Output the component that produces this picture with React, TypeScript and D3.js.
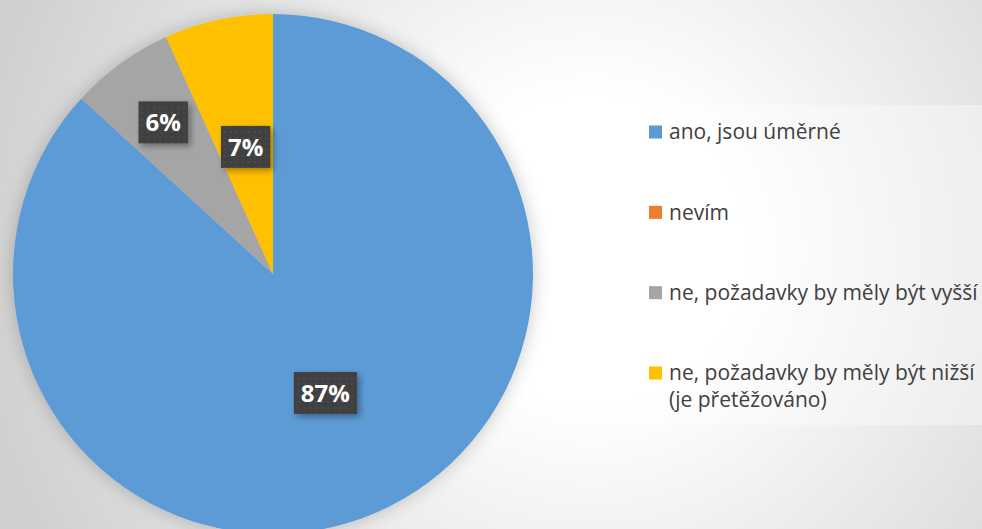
import React, { useEffect, useRef } from "react";
import * as d3 from "d3";

const categories = [
  "ano, jsou úměrné",
  "nevím",
  "ne, požadavky by měly být vyšší",
  "ne, požadavky by měly být nižší (je přetěžováno)",
];
const legendLines = [
  ["ano, jsou úměrné"],
  ["nevím"],
  ["ne, požadavky by měly být vyšší"],
  ["ne, požadavky by měly být nižší", "(je přetěžováno)"],
];
const values = [86.8, 0, 6.45, 6.75];
const colors = ["#5B9BD5", "#ED7D31", "#A5A5A5", "#FFC000"];
const labelRadiusFactors = [0.5, 0.5, 0.72, 0.5];

const W = 982;
const H = 529;

export default function App() {
  const ref = useRef<SVGSVGElement | null>(null);

  useEffect(() => {
    const svg = d3.select(ref.current);
    svg.selectAll("*").remove();

    const defs = svg.append("defs");
    const bg = defs
      .append("radialGradient")
      .attr("id", "bg")
      .attr("gradientUnits", "userSpaceOnUse")
      .attr("cx", 590)
      .attr("cy", 250)
      .attr("r", 620);
    bg.append("stop").attr("offset", "0").attr("stop-color", "#ffffff");
    bg.append("stop").attr("offset", "0.25").attr("stop-color", "#ffffff");
    bg.append("stop").attr("offset", "1").attr("stop-color", "#d0d0d0");

    const pieShadow = defs
      .append("filter")
      .attr("id", "pieShadow")
      .attr("x", "-20%")
      .attr("y", "-20%")
      .attr("width", "140%")
      .attr("height", "140%");
    pieShadow
      .append("feDropShadow")
      .attr("dx", 0)
      .attr("dy", 0)
      .attr("stdDeviation", 9)
      .attr("flood-color", "#000")
      .attr("flood-opacity", 0.22);

    const boxShadow = defs
      .append("filter")
      .attr("id", "boxShadow")
      .attr("x", "-30%")
      .attr("y", "-30%")
      .attr("width", "170%")
      .attr("height", "170%");
    boxShadow
      .append("feDropShadow")
      .attr("dx", 3)
      .attr("dy", 3)
      .attr("stdDeviation", 3)
      .attr("flood-color", "#000")
      .attr("flood-opacity", 0.35);

    const pat = defs
      .append("pattern")
      .attr("id", "dots")
      .attr("patternUnits", "userSpaceOnUse")
      .attr("width", 6)
      .attr("height", 6);
    pat.append("rect").attr("width", 6).attr("height", 6).attr("fill", "#404040");
    pat
      .append("rect")
      .attr("x", 2)
      .attr("y", 2)
      .attr("width", 2)
      .attr("height", 2)
      .attr("fill", "#4c4c4c");

    svg.append("rect").attr("width", W).attr("height", H).attr("fill", "url(#bg)");

    const cx = 273;
    const cy = 274;
    const r = 260;

    const pie = d3
      .pie<number>()
      .sort(null)
      .value((d) => d);
    const arcs = pie(values);
    const arc = d3.arc<d3.PieArcDatum<number>>().innerRadius(0).outerRadius(r);

    const g = svg.append("g").attr("transform", `translate(${cx},${cy})`);
    g.append("g")
      .attr("filter", "url(#pieShadow)")
      .selectAll("path")
      .data(arcs)
      .join("path")
      .attr("d", (d) => arc(d) as string)
      .attr("fill", (_d, i) => colors[i]);

    const total = d3.sum(values);
    const font = "'Open Sans', 'DejaVu Sans', sans-serif";

    arcs.forEach((d, i) => {
      if (d.value <= 0) return;
      const lr = r * labelRadiusFactors[i];
      const la = d3.arc<d3.PieArcDatum<number>>().innerRadius(lr).outerRadius(lr);
      const [x, y] = la.centroid(d);
      const label = `${Math.round((d.value / total) * 100)}%`;
      const lg = g.append("g").attr("transform", `translate(${x},${y})`);
      const rect = lg.append("rect").attr("fill", "url(#dots)").attr("filter", "url(#boxShadow)");
      const t = lg
        .append("text")
        .attr("text-anchor", "middle")
        .attr("dy", "0.36em")
        .attr("fill", "#ffffff")
        .attr("font-family", font)
        .attr("font-weight", 700)
        .attr("font-size", 24)
        .text(label);
      const bb = (t.node() as SVGTextElement).getBBox();
      const bw = bb.width + 14;
      const bh = 42;
      rect.attr("x", -bw / 2).attr("y", -bh / 2).attr("width", bw).attr("height", bh);
    });

    // legend
    const lx = 633;
    const ly = 105;
    svg
      .append("rect")
      .attr("x", lx)
      .attr("y", ly)
      .attr("width", W - lx)
      .attr("height", 320)
      .attr("fill", "#ffffff")
      .attr("fill-opacity", 0.35);

    const legendY = d3
      .scalePoint<string>()
      .domain(categories)
      .range([132, 373]);

    categories.forEach((c, i) => {
      const y = legendY(c) as number;
      svg
        .append("rect")
        .attr("x", 649)
        .attr("y", y - 6.5)
        .attr("width", 13)
        .attr("height", 13)
        .attr("fill", colors[i]);
      const t = svg
        .append("text")
        .attr("x", 669)
        .attr("y", y)
        .attr("fill", "#404040")
        .attr("font-family", font)
        .attr("font-size", 21);
      legendLines[i].forEach((line, j) => {
        t.append("tspan")
          .attr("x", 669)
          .attr("y", y + j * 27)
          .attr("dy", "0.35em")
          .text(line);
      });
    });
  }, []);

  return (
    <div style={{ position: "absolute", left: 0, top: 0 }}>
      <svg ref={ref} width={W} height={H} style={{ display: "block" }} />
    </div>
  );
}
